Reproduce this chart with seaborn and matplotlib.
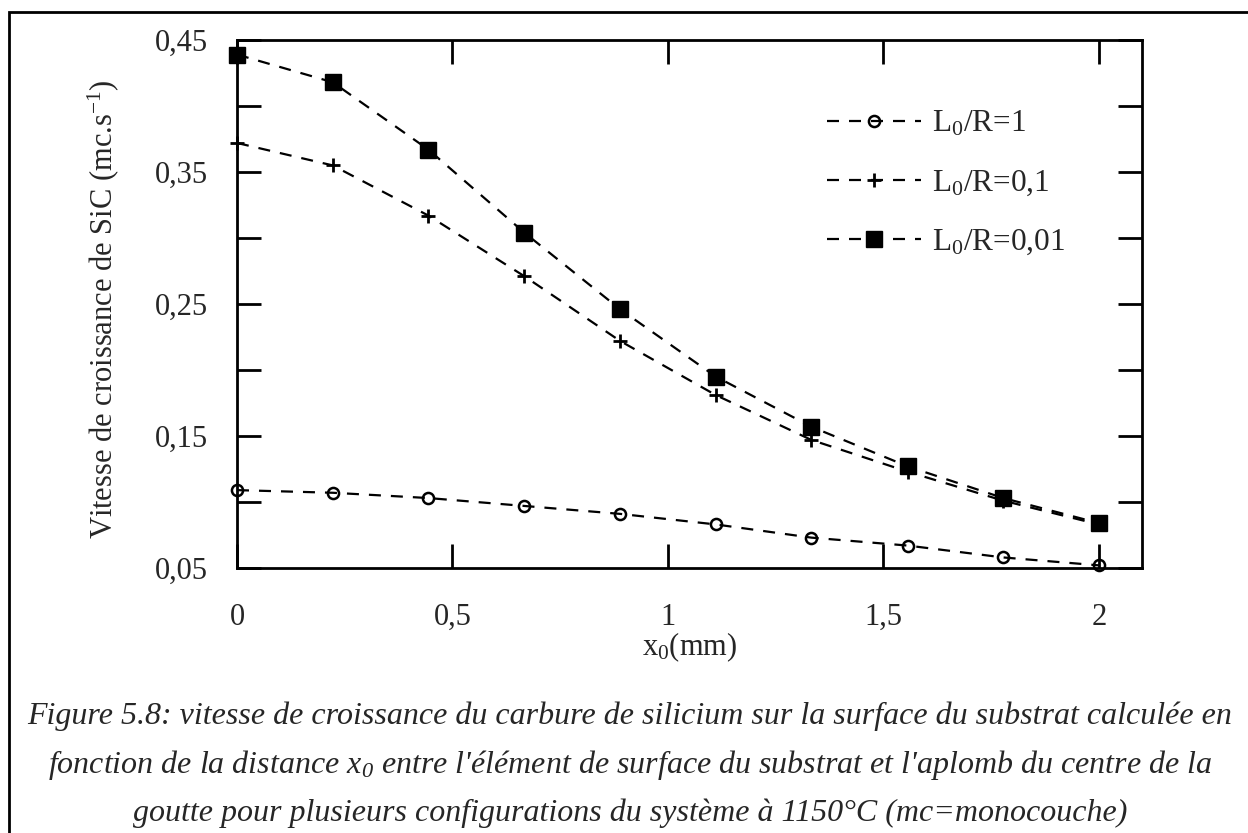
import matplotlib
matplotlib.use("Agg")
import matplotlib.pyplot as plt
from matplotlib.patches import Rectangle
import seaborn as sns
import pandas as pd

# ---- data ----
x0_mm = [0.0, 0.222, 0.444, 0.667, 0.889, 1.111, 1.333, 1.556, 1.778, 2.0]
v_L1 = [0.109, 0.107, 0.103, 0.097, 0.091, 0.083, 0.073, 0.067, 0.058, 0.052]
v_L01 = [0.372, 0.355, 0.317, 0.271, 0.222, 0.181, 0.147, 0.123, 0.101, 0.083]
v_L001 = [0.439, 0.418, 0.367, 0.304, 0.246, 0.195, 0.157, 0.127, 0.103, 0.084]
series_labels = [r"L$_{\mathregular{0}}$/R=1",
                 r"L$_{\mathregular{0}}$/R=0,1",
                 r"L$_{\mathregular{0}}$/R=0,01"]
xtick_vals = [0, 0.5, 1, 1.5, 2]
xtick_labels = ["0", "0,5", "1", "1,5", "2"]
ytick_vals = [0.05, 0.15, 0.25, 0.35, 0.45]
ytick_labels = ["0,05", "0,15", "0,25", "0,35", "0,45"]
yminor_vals = [0.10, 0.20, 0.30, 0.40]
caption_lines = [
    "Figure 5.8: vitesse de croissance du carbure de silicium sur la surface du substrat calculée en",
    r"fonction de la distance x$_{\mathregular{0}}$ entre l'élément de surface du substrat et l'aplomb du centre de la",
    "goutte pour plusieurs configurations du système à 1150°C (mc=monocouche)",
]

sns.set_theme(style="ticks")
plt.rcParams["font.family"] = ["Liberation Serif", "DejaVu Serif"]
plt.rcParams["mathtext.fontset"] = "custom"
plt.rcParams["mathtext.rm"] = "Liberation Serif"
plt.rcParams["mathtext.it"] = "Liberation Serif:italic"

fig = plt.figure(figsize=(12.48, 8.33), dpi=100)
ax = fig.add_axes([237 / 1248, 1 - 568 / 833, (1142 - 237) / 1248, (568 - 40) / 833])

df = pd.DataFrame({"x": x0_mm, "a": v_L1, "b": v_L01, "c": v_L001})
dash = (0, (5.4, 4.5))
sns.lineplot(data=df, x="x", y="a", ax=ax, color="black", lw=1.6, ls=dash,
             marker="o", markersize=8, markerfacecolor="none",
             markeredgecolor="black", markeredgewidth=1.8, label=series_labels[0])
sns.lineplot(data=df, x="x", y="b", ax=ax, color="black", lw=1.6, ls=dash,
             marker="+", markersize=10, markeredgewidth=2.0,
             markeredgecolor="black", label=series_labels[1])
sns.lineplot(data=df, x="x", y="c", ax=ax, color="black", lw=1.6, ls=dash,
             marker="s", markersize=11, markerfacecolor="black",
             markeredgecolor="black", markeredgewidth=1, label=series_labels[2])

for ln in ax.get_lines():
    ln.set_clip_on(False)

ax.set_xlim(0, 2.1)
ax.set_ylim(0.05, 0.45)
ax.set_xticks(xtick_vals)
ax.set_xticklabels(xtick_labels)
ax.set_yticks(ytick_vals)
ax.set_yticklabels(ytick_labels)
ax.set_yticks(yminor_vals, minor=True)
ax.tick_params(which="both", direction="in", length=17, width=2,
               top=True, right=True, labelsize=22, color="black")
ax.tick_params(axis="x", pad=25)
ax.tick_params(axis="y", pad=21)
for s in ax.spines.values():
    s.set_linewidth(2)
    s.set_color("black")

ax.set_xlabel(r"x$_{\mathregular{0}}$(mm)", fontsize=22)
ax.xaxis.set_label_coords(0.5, -0.118)
ax.xaxis.label.set_va("top")
ax.set_ylabel(r"Vitesse de croissance de SiC (mc.s$^{\mathregular{-1}}$)", fontsize=22)
ax.yaxis.set_label_coords(-0.128, 0.49)

leg = ax.legend(loc="center left", bbox_to_anchor=(0.652, 0.729), frameon=False,
                fontsize=22.5, handlelength=3.0, handletextpad=0.35,
                labelspacing=0.95, borderpad=0, borderaxespad=0)

y_cap = [1 - 716 / 833, 1 - 765 / 833, 1 - 813 / 833]
for t, yy in zip(caption_lines, y_cap):
    fig.text(630 / 1248, yy, t, ha="center", va="center", fontsize=23, style="italic")

fig.add_artist(Rectangle((9 / 1248, -0.2), 1.5, 1.2 - 12 / 833,
                         transform=fig.transFigure, fill=False, lw=2,
                         edgecolor="black"))

fig.savefig("out.png", dpi=100)
